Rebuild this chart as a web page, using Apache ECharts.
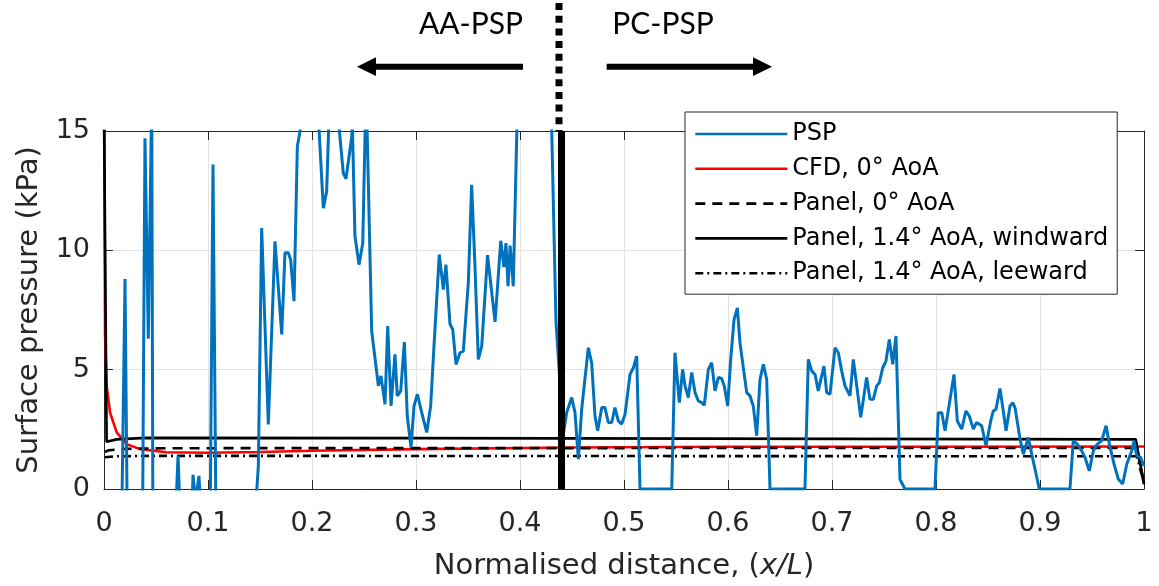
<!DOCTYPE html>
<html><head><meta charset="utf-8">
<script src="https://cdn.jsdelivr.net/npm/echarts@6/dist/echarts.min.js"></script>
<style>html,body{margin:0;padding:0;background:#fff}#c{width:1159px;height:586px}</style>
</head><body><div id="c"></div>
<script>
// ---- tick labels ----
const xTickLabels = ['0','0.1','0.2','0.3','0.4','0.5','0.6','0.7','0.8','0.9','1'];
const yTickLabels = ['0','5','10','15'];

// ---- series names ----
const seriesNames = ['PSP','CFD, 0° AoA','Panel, 0° AoA','Panel, 1.4° AoA, windward','Panel, 1.4° AoA, leeward'];

// ---- PSP (x/L, kPa) ----
const pspX = [0.003,0.017,0.0202,0.0225,0.037,0.0394,0.0426,0.0459,0.0471,0.068,0.0712,0.074,0.084,0.0856,0.088,0.0913,0.094,0.102,0.1048,0.108,
0.144,0.1484,0.1516,0.1580,0.1644,0.1709,0.1740,0.1772,0.1795,0.1827,0.1859,0.1885,0.191,0.200,0.2062,0.2109,0.2141,0.2163,0.222,0.2253,
0.2301,0.2327,0.2382,0.2388,0.2413,0.2452,0.2488,0.2513,0.2525,0.2574,0.2638,0.2663,0.2702,0.2728,0.2760,0.2798,0.2820,0.2853,0.2888,0.2916,
0.2952,0.2981,0.3013,0.3055,0.3103,0.3141,0.3173,0.3224,0.3263,0.3288,0.3327,0.3353,0.3385,0.3423,0.3455,0.3503,0.3535,0.3567,0.3599,0.3632,
0.3688,0.3760,0.3815,0.3845,0.3865,0.3885,0.3905,0.3935,0.3975,0.405,0.425,0.4300,0.4346,0.4417,0.4449,0.4497,0.4529,0.4561,0.4593,0.4657,
0.4689,0.4721,0.4747,0.4786,0.4817,0.4849,0.4882,0.4913,0.4945,0.4978,0.5010,0.5058,0.5090,0.5122,0.5154,0.5459,0.5490,0.5532,0.5564,0.5587,
0.5618,0.5651,0.5683,0.5715,0.5747,0.5772,0.5811,0.5843,0.5875,0.5907,0.5939,0.5964,0.5997,0.6026,0.6058,0.6090,0.6115,0.6180,0.6212,0.6243,
0.6276,0.6308,0.6340,0.6372,0.6404,0.6740,0.6772,0.6805,0.6837,0.6868,0.6901,0.6923,0.6949,0.6981,0.7029,0.7061,0.7093,0.7125,0.7173,0.7205,
0.7238,0.7276,0.7333,0.7365,0.7397,0.7430,0.7455,0.7488,0.7519,0.7551,0.7584,0.7615,0.7654,0.7702,0.7990,0.8022,0.8055,0.8087,0.8135,0.8173,
0.8205,0.8247,0.8288,0.8320,0.8359,0.8391,0.8439,0.8481,0.8526,0.8551,0.8577,0.8615,0.8647,0.8673,0.8712,0.8738,0.8760,0.8808,0.8840,0.8888,
0.8920,0.8952,0.8993,0.9288,0.9320,0.9359,0.9401,0.9433,0.9474,0.9513,0.9551,0.9593,0.9635,0.9667,0.9712,0.9753,0.9795,0.9834,0.9882,0.9904,
0.9930,0.9968,1.0000];
const pspY = [-2,-1.5,8.8,-2,-2,14.7,6.3,16.5,-3,-2,1.4,-2,-1.5,0.6,-0.5,0.55,-1.5,-2,13.6,-3,
-2,0.97,10.93,2.7,10.38,6.48,9.9,9.9,9.6,7.87,14.35,15.0,16,17,15.5,11.77,12.47,15.5,17,15.5,
13.23,13.0,14.76,15.3,10.6,9.4,10.3,15.5,16,6.62,4.32,4.74,3.55,6.83,3.48,5.64,3.9,4.1,6.16,3.06,
1.74,3.48,3.97,3.2,2.37,3.48,5.99,9.82,8.36,9.4,6.9,6.69,5.22,5.71,5.78,8.64,12.75,9.33,5.43,5.99,
9.8,7.0,10.4,9.3,10.3,8.5,10.2,8.5,16,17,18,16,7.0,2.3,3.2,3.83,3.2,1.25,3.34,5.92,
5.29,3.06,2.44,3.41,3.41,2.79,2.79,3.41,2.85,2.72,3.13,4.8,5.08,5.57,0,0,5.71,3.62,5.01,4.32,
3.83,4.88,4.04,3.69,3.62,3.51,5.01,5.29,4.11,4.67,4.63,4.32,3.48,5.43,7.1,7.59,6.13,4.04,3.9,3.48,
2.23,4.6,5.22,4.6,0,0,5.43,4.95,4.8,4.11,4.74,5.15,4.04,3.97,5.92,5.71,4.95,4.32,3.9,5.43,
4.32,3.0,4.67,3.76,3.76,4.32,4.46,5.08,5.36,6.27,5.22,6.41,0.4,0,0,3.2,3.2,2.44,3.76,4.8,
2.85,2.51,3.27,3.06,2.51,2.79,2.65,1.81,2.85,3.27,3.34,4.21,3.27,2.44,3.48,3.62,3.4,2.09,1.46,2.16,
1.46,0.84,0,0,2.02,1.88,1.6,1.32,0.76,1.6,1.88,2.02,2.65,1.88,1.04,0.42,0.21,1.04,1.6,2.02,
1.39,1.32,0.97];

// ---- CFD, 0° AoA ----
const cfdX = [0,0.001,0.0026,0.0058,0.0122,0.0218,0.0346,0.06,0.1,0.15,0.2,0.3,0.45,0.6,0.8,1.0];
const cfdY = [20,6.5,4.3,3.2,2.37,1.88,1.67,1.54,1.52,1.55,1.6,1.67,1.74,1.77,1.77,1.78];

// ---- Panel, 0° AoA ----
const panel0X = [0.001,0.004,0.02,0.06,0.993,1.0];
const panel0Y = [1.55,1.62,1.68,1.71,1.72,0.25];

// ---- Panel, 1.4° AoA, windward ----
const windX = [0,0.0025,0.012,0.04,0.3,0.992,1.0];
const windY = [16,1.98,2.08,2.14,2.13,2.08,0.2];

// ---- Panel, 1.4° AoA, leeward ----
const leeX = [0.001,0.01,0.05,0.993,1.0];
const leeY = [1.33,1.37,1.39,1.37,0.25];

// ---- AA/PC divider ----
const dividerX = [0.4375];
const regionLabels = ['AA-PSP','PC-PSP'];

const FONT = 'DejaVu Sans';
const AX = '#262626';
const zip = (xs, ys) => xs.map((x, i) => [x, ys[i]]);

const chart = echarts.init(document.getElementById('c'));

const baseX = {type:'value', min:0, max:1, interval:0.1};
const baseY = {type:'value', min:0, max:15, interval:5};

const option = {
  animation:false,
  grid:{left:104, top:131, width:1040, height:359, containLabel:false},
  xAxis:[
    Object.assign({}, baseX, {
      position:'bottom',
      axisLine:{onZero:false, lineStyle:{color:AX, width:1}},
      axisTick:{inside:true, length:9, lineStyle:{color:AX, width:1}},
      axisLabel:{fontSize:27, fontFamily:FONT, color:AX, margin:21,
        formatter:v => xTickLabels[Math.round(v*10)]},
      splitLine:{show:true, lineStyle:{color:'#e3e3e3', width:1}},
      name:'Normalised distance, ({i|x/L})',
      nameLocation:'middle', nameGap:63,
      nameTextStyle:{fontSize:29, fontFamily:FONT, color:AX,
        rich:{i:{fontSize:29, fontFamily:FONT, fontStyle:'italic', color:AX}}}
    }),
    Object.assign({}, baseX, {
      position:'top',
      axisLine:{onZero:false, lineStyle:{color:AX, width:1}},
      axisTick:{inside:true, length:9, lineStyle:{color:AX, width:1}},
      axisLabel:{show:false}, splitLine:{show:false}
    })
  ],
  yAxis:[
    Object.assign({}, baseY, {
      position:'left',
      axisLine:{show:true, onZero:false, lineStyle:{color:AX, width:1}},
      axisTick:{show:true, inside:true, length:9, lineStyle:{color:AX, width:1}},
      axisLabel:{fontSize:27, fontFamily:FONT, color:AX, margin:14,
        formatter:v => yTickLabels[Math.round(v/5)]},
      splitLine:{show:true, lineStyle:{color:'#e3e3e3', width:1}},
      name:'Surface pressure (kPa)',
      nameLocation:'middle', nameGap:60,
      nameTextStyle:{fontSize:29, fontFamily:FONT, color:AX}
    }),
    Object.assign({}, baseY, {
      position:'right',
      axisLine:{show:true, onZero:false, lineStyle:{color:AX, width:1}},
      axisTick:{show:true, inside:true, length:9, lineStyle:{color:AX, width:1}},
      axisLabel:{show:false}, splitLine:{show:false}
    })
  ],
  legend:{
    orient:'vertical', left:685, top:112,
    itemWidth:92, itemHeight:24, itemGap:10.8,
    padding:[10,9,9,9],
    backgroundColor:'#fff', borderColor:AX, borderWidth:1, borderRadius:0,
    itemStyle:{opacity:0},
    lineStyle:{width:2.6},
    textStyle:{fontSize:24, fontFamily:FONT, color:'#000'},
    data:seriesNames
  },
  series:[
    {name:seriesNames[0], type:'line', data:zip(pspX, pspY), symbol:'none', showSymbol:false,
     lineStyle:{color:'#0072BD', width:3}, itemStyle:{color:'#0072BD'}, z:3,
     markLine:{silent:true, symbol:['none','none'], label:{show:false},
       lineStyle:{color:'#000', width:7, type:'solid'}, emphasis:{disabled:true},
       data:[{xAxis:dividerX[0]}]}},
    {name:seriesNames[1], type:'line', data:zip(cfdX, cfdY), symbol:'none', showSymbol:false,
     lineStyle:{color:'#FF0000', width:2.6}, itemStyle:{color:'#FF0000'}, z:2},
    {name:seriesNames[2], type:'line', data:zip(panel0X, panel0Y), symbol:'none', showSymbol:false,
     lineStyle:{color:'#000', width:2.6, type:[10,7]}, itemStyle:{color:'#000'}, z:2},
    {name:seriesNames[3], type:'line', data:zip(windX, windY), symbol:'none', showSymbol:false,
     lineStyle:{color:'#000', width:2.7}, itemStyle:{color:'#000'}, z:2},
    {name:seriesNames[4], type:'line', data:zip(leeX, leeY), symbol:'none', showSymbol:false,
     lineStyle:{color:'#000', width:2.6, type:[8,4,2,4]}, itemStyle:{color:'#000'}, z:2}
  ]
};
chart.setOption(option);

const divPx = chart.convertToPixel({xAxisIndex:0}, dividerX[0]);
chart.setOption({
  graphic:[
    {type:'line', silent:true, shape:{x1:divPx, y1:3, x2:divPx, y2:131},
     style:{stroke:'#000', lineWidth:7, lineDash:[7,5.7]}},
    {type:'text', silent:true, style:{text:regionLabels[0], x:471, y:24, align:'center', verticalAlign:'middle',
      fontSize:30, fontFamily:'Lato', fill:'#000'}},
    {type:'text', silent:true, style:{text:regionLabels[1], x:663, y:24, align:'center', verticalAlign:'middle',
      fontSize:30, fontFamily:'Lato', fill:'#000'}},
    {type:'line', silent:true, shape:{x1:523, y1:66.7, x2:372, y2:66.7}, style:{stroke:'#000', lineWidth:6}},
    {type:'polygon', silent:true, shape:{points:[[357,66.7],[376,57.3],[376,76.1]]}, style:{fill:'#000'}},
    {type:'line', silent:true, shape:{x1:606.7, y1:66.7, x2:757, y2:66.7}, style:{stroke:'#000', lineWidth:6}},
    {type:'polygon', silent:true, shape:{points:[[772,66.7],[753,57.3],[753,76.1]]}, style:{fill:'#000'}}
  ]
});
</script>
</body></html>
